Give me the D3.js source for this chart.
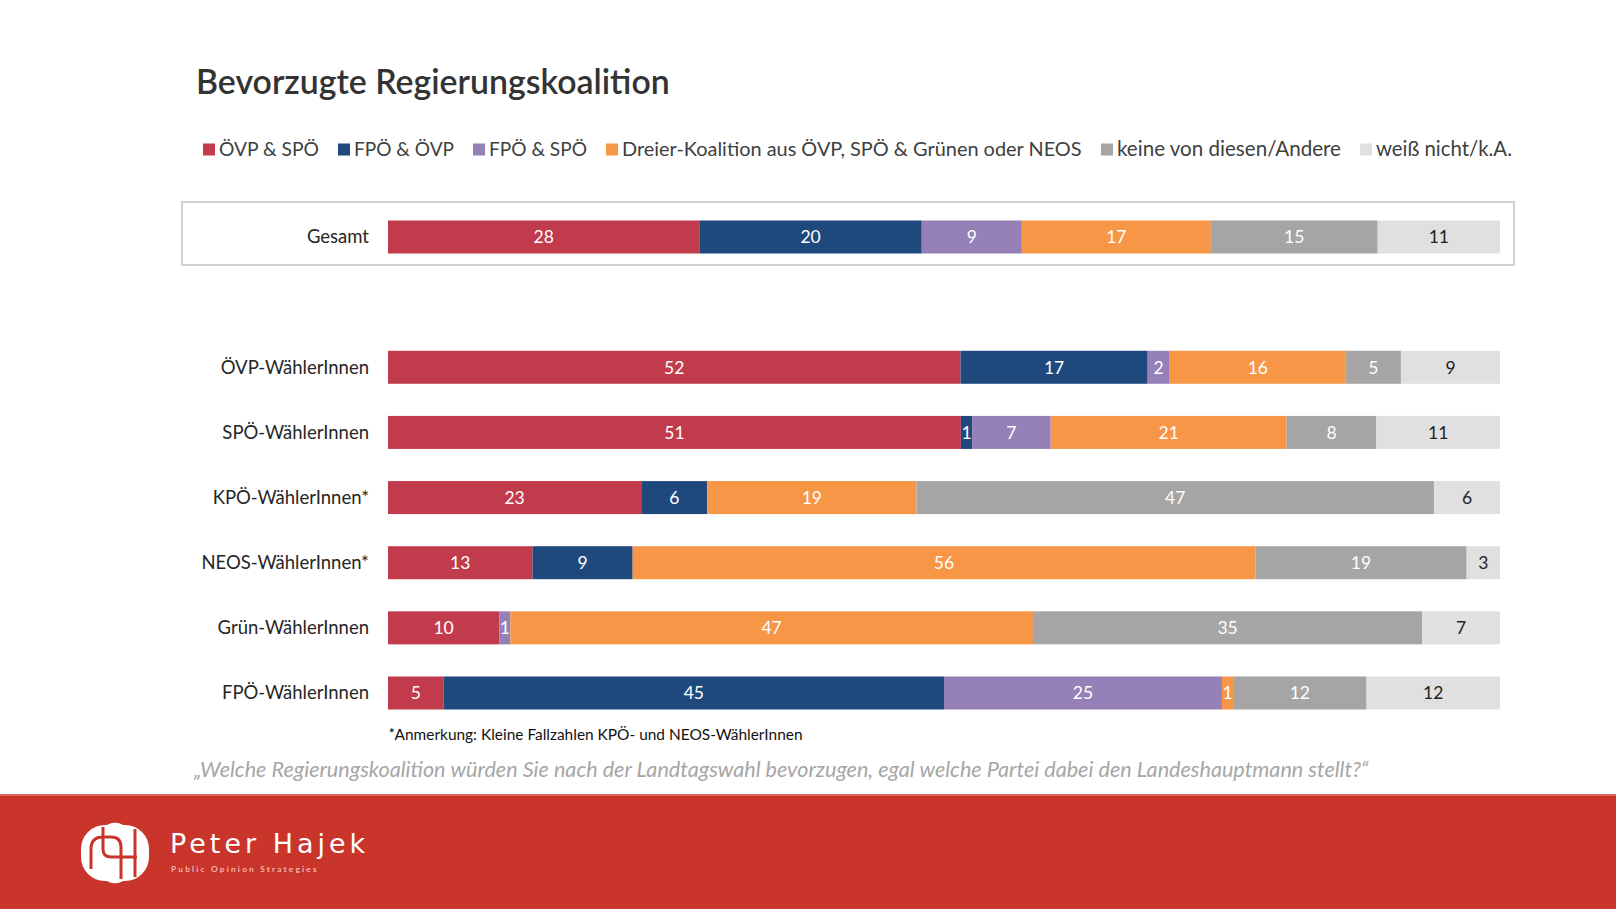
<!DOCTYPE html>
<html><head><meta charset="utf-8">
<script src="https://cdn.jsdelivr.net/npm/d3@7"></script>
<style>
html,body{margin:0;padding:0;background:#fff;}
svg{display:block;font-family:Lato,"Open Sans",sans-serif;}
</style></head>
<body>
<script>
const categories = ["Gesamt","ÖVP-WählerInnen","SPÖ-WählerInnen","KPÖ-WählerInnen*","NEOS-WählerInnen*","Grün-WählerInnen","FPÖ-WählerInnen"];
const seriesNames = ["ÖVP & SPÖ","FPÖ & ÖVP","FPÖ & SPÖ","Dreier-Koalition aus ÖVP, SPÖ & Grünen oder NEOS","keine von diesen/Andere","weiß nicht/k.A."];
const oevpSpoe  = [28,52,51,23,13,10,5];
const fpoeOevp  = [20,17,1,6,9,0,45];
const fpoeSpoe  = [9,2,7,0,0,1,25];
const dreier    = [17,16,21,19,56,47,1];
const keine     = [15,5,8,47,19,35,12];
const weissNicht= [11,9,11,6,3,7,12];
const colors = ["#c23b4d","#1f497d","#9580b8","#f79646","#a5a5a5","#e0e0e0"];
const labelColors = ["#fff","#fff","#fff","#fff","#fff","#222"];
const titleText = "Bevorzugte Regierungskoalition";
const footnote = "Anmerkung: Kleine Fallzahlen KPÖ- und NEOS-WählerInnen";
const question = "„Welche Regierungskoalition würden Sie nach der Landtagswahl bevorzugen, egal welche Partei dabei den Landeshauptmann stellt?“";

const series = [oevpSpoe,fpoeOevp,fpoeSpoe,dreier,keine,weissNicht];
const W=1616,H=909;
const svg = d3.select("body").append("svg").attr("width",W).attr("height",H);

function fit(sel, target){
  const n = sel.node();
  const fs = parseFloat(sel.attr("font-size"));
  const w = n.getComputedTextLength();
  sel.attr("font-size", fs*target/w);
}

// Title
svg.append("text").attr("x",196).attr("y",93.5).attr("font-size",31).attr("font-weight",600)
  .attr("fill","#333").text(titleText).call(s=>fit(s,474));

// Legend
const legX = [203,338,473,606,1101,1360];
const legEnd = [319,454,587,1082,1341,1512];
const leg = svg.append("g");
seriesNames.forEach((n,i)=>{
  leg.append("rect").attr("x",legX[i]).attr("y",143.5).attr("width",12).attr("height",12).attr("fill",colors[i]);
  leg.append("text").attr("x",legX[i]+16).attr("y",156).attr("font-size",19).attr("fill","#404040").text(n)
    .call(s=>fit(s,legEnd[i]-legX[i]-16));
});

// Gesamt box
svg.append("rect").attr("x",182).attr("y",202).attr("width",1332).attr("height",63)
  .attr("fill","none").attr("stroke","#cfcfcf").attr("stroke-width",2);

const x = d3.scaleLinear().domain([0,1]).range([388,1500]);
const rowIndex = [0,2,3,4,5,6,7];
const y = d3.scaleLinear().domain([0,7]).range([237,693]);
const bh = 33;

const rows = categories.map((c,ci)=>{
  const vals = series.map(s=>s[ci]);
  const total = d3.sum(vals);
  let cum=0;
  const segs = vals.map((v,si)=>{const s={si,v,x0:cum/total,x1:(cum+v)/total}; cum+=v; return s;});
  return {c,ci,segs};
});

const g = svg.append("g");
rows.forEach(r=>{
  const cy = y(rowIndex[r.ci]);
  g.append("text").attr("x",369).attr("y",cy).attr("dy","0.35em").attr("text-anchor","end")
    .attr("font-size",18.5).attr("fill","#262626").text(r.c);
  const segs = r.segs.filter(d=>d.v>0);
  g.selectAll(null).data(segs).enter().append("rect")
    .attr("x",d=>x(d.x0)).attr("width",d=>x(d.x1)-x(d.x0))
    .attr("y",cy-bh/2).attr("height",bh).attr("fill",d=>colors[d.si]);
  g.selectAll(null).data(segs).enter().append("text")
    .attr("x",d=>(x(d.x0)+x(d.x1))/2).attr("y",cy).attr("dy","0.36em")
    .attr("text-anchor","middle").attr("font-size",17.5).attr("fill",d=>labelColors[d.si])
    .text(d=>d.v);
});

// Footnote
const fn = svg.append("text").attr("x",389).attr("y",740).attr("font-size",15).attr("fill","#111");
fn.append("tspan").attr("font-size",13).attr("font-weight",700).attr("dy",-2).text("*");
fn.append("tspan").attr("dy",2).text(footnote);
{
  const w = fn.node().getComputedTextLength();
  const k = 414/w;
  fn.attr("font-size",15*k);
}

// Question
svg.append("text").attr("x",194).attr("y",776.5).attr("font-size",20).attr("font-style","italic")
  .attr("fill","#a6a6a6").text(question).call(s=>fit(s,1175));

// Footer
svg.append("rect").attr("x",0).attr("y",794).attr("width",W).attr("height",H-794).attr("fill","#c9352b");
svg.append("rect").attr("x",0).attr("y",794).attr("width",W).attr("height",2).attr("fill","#d9655c");

// Logo
const logo = svg.append("g").attr("transform","translate(115,853)");
logo.append("rect").attr("x",-26).attr("y",-26).attr("width",52).attr("height",52).attr("rx",16)
  .attr("transform","rotate(45)").attr("fill","#fff");
logo.append("rect").attr("x",-34).attr("y",-28).attr("width",68).attr("height",56).attr("rx",24).attr("fill","#fff");
logo.append("path").attr("d","M-24,16 L-24,-4 Q-24,-16 -12,-16 L-4,-16 Q6,-16 6,-6 L6,26 M-12,-26 L-12,-4 Q-12,4 -4,4 L22,4 M20,-24 L20,24")
  .attr("fill","none").attr("stroke","#c9352b").attr("stroke-width",3);

svg.append("text").attr("x",170).attr("y",853).attr("font-size",29).attr("fill","#fff")
  .attr("letter-spacing",4).attr("font-family","'DejaVu Sans',sans-serif").text("Peter Hajek").call(s=>fit(s,196));
svg.append("text").attr("x",171).attr("y",872).attr("font-size",8).attr("font-weight",700).attr("fill","#f2b7ae")
  .attr("letter-spacing",2.2).text("Public Opinion Strategies").call(s=>fit(s,150));
</script>
</body></html>
